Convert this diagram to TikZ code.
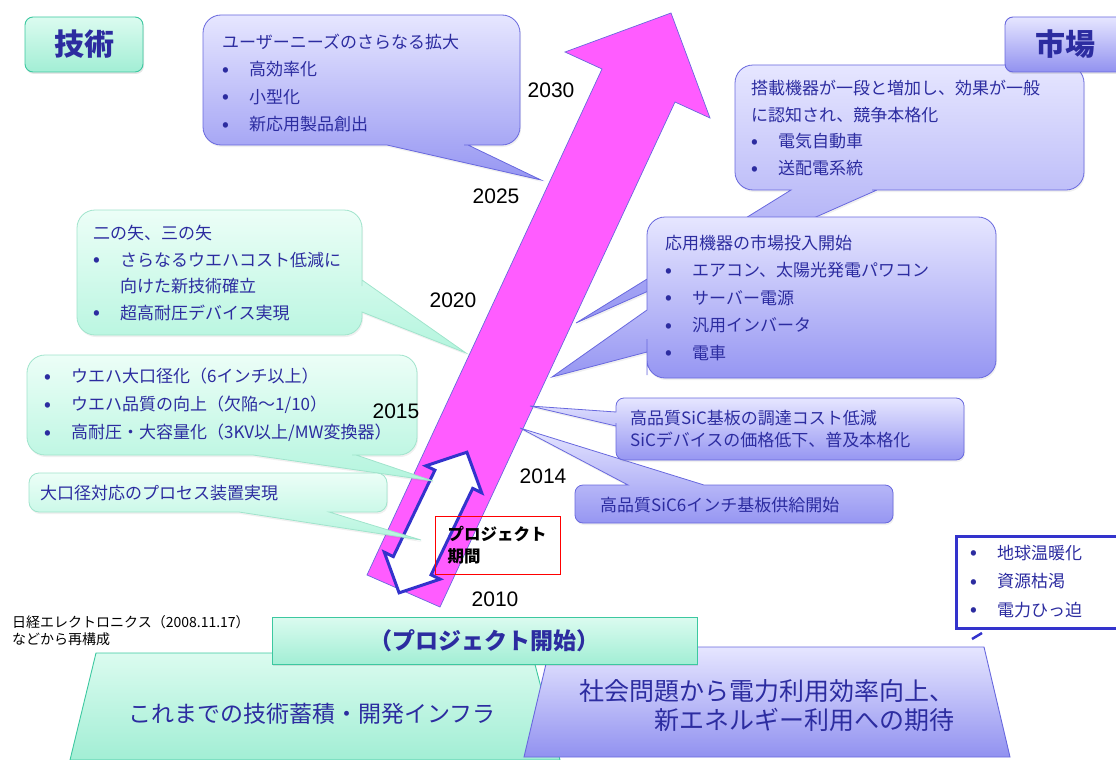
\documentclass[tikz,border=0pt]{standalone}
\usepackage{fontspec}
\usepackage{xcolor}
\setmainfont{Noto Sans CJK JP}
\newfontfamily\yearfont{Liberation Sans}
\usetikzlibrary{shadows}

\definecolor{inkblue}{RGB}{44,44,160}
\definecolor{mintlight}{RGB}{236,254,247}
\definecolor{mintdark}{RGB}{180,245,222}
\definecolor{mintline}{RGB}{160,228,204}
\definecolor{mintedge}{RGB}{60,200,160}
\definecolor{lilaclight}{RGB}{230,230,255}
\definecolor{lilacdark}{RGB}{150,150,242}
\definecolor{lilacline}{RGB}{104,104,222}
\definecolor{arrowpink}{RGB}{255,92,255}
\definecolor{frameblue}{RGB}{51,51,204}

\newcommand{\bul}{\makebox[27pt][l]{\raisebox{0.5pt}{\fontsize{17}{17}\selectfont\bfseries •}}}

\tikzset{
  techcall/.style={draw=mintline, line width=0.8pt, top color=mintlight, bottom color=mintdark,
    drop shadow={opacity=0.12, shadow xshift=1pt, shadow yshift=-2pt}},
  marketcall/.style={draw=lilacline, line width=0.8pt, top color=lilaclight, bottom color=lilacdark,
    drop shadow={opacity=0.12, shadow xshift=1pt, shadow yshift=-2pt}},
  techblock/.style={draw=mintedge, line width=0.9pt, top color=mintlight!70!mintdark, bottom color=mintdark!85!mintedge},
  marketblock/.style={draw=lilacline, line width=0.9pt, top color=lilaclight, bottom color=lilacdark!90!lilacline},
  note/.style={inner sep=0pt, text=inkblue, align=left, font=\fontsize{17}{27.5}\selectfont},
  yearlabel/.style={inner sep=0pt, font=\yearfont\fontsize{21}{21}\selectfont},
  headline/.style={rounded corners=8pt, text=inkblue, font=\fontsize{30}{30}\selectfont\bfseries,
    drop shadow={opacity=0.2, shadow xshift=1pt, shadow yshift=-2pt}},
}

\begin{document}
\begin{tikzpicture}[x=1pt, y=-1pt]
\useasboundingbox (0,0) rectangle (1116,760);

% roadmap arrow
\path[draw=lilacline, line width=0.7pt, fill=arrowpink]
  (367,575) -- (602,69) -- (565,52) -- (671,13) -- (710,118) -- (675,102) -- (440,607) -- cycle;

% project period
\path[draw=frameblue, line width=3pt, fill=white]
  (466.9,452.2) -- (481.7,492.8) -- (472.7,488.4) -- (431.1,574.8) -- (440.1,579.2)
  -- (399.1,592.8) -- (384.3,552.2) -- (393.3,556.6) -- (434.9,470.2) -- (425.9,465.8) -- cycle;

% market callouts
\path[marketcall] (575,505) [rounded corners=8pt] -- (575,485) -- (618,485) [sharp corners] -- (628,485)
  -- (520,428) -- (704,485) -- (714,485) [rounded corners=8pt] -- (893,485) -- (893,523) -- (575,523) -- cycle;
\path[marketcall] (800,398) [rounded corners=8pt] -- (964,398) -- (964,460) -- (616,460) -- (616,431)
  [sharp corners] -- (616,426) -- (530,406) -- (616,412) -- (616,408) [rounded corners=8pt] -- (616,398) -- cycle;
\path[marketcall] (900,65) [rounded corners=18pt] -- (1084,65) -- (1084,190) -- (890,190) [sharp corners]
  -- (877,190) -- (576,323) -- (791,190) -- (778,190) [rounded corners=18pt] -- (735,190) -- (735,65) -- cycle;
\path[marketcall] (800,217) [rounded corners=18pt] -- (996,217) -- (996,378) -- (647,378) -- (647,357)
  [sharp corners] -- (647,352) -- (552,377) -- (647,310) -- (647,300) [rounded corners=18pt] -- (647,217) -- cycle;
\path[marketcall] (360,15) [rounded corners=18pt] -- (520,15) -- (520,145) -- (482,145) [sharp corners]
  -- (468,145) -- (541,180) -- (387,145) -- (373,145) [rounded corners=18pt] -- (203,145) -- (203,15) -- cycle;

% technology callouts
\path[techcall] (220,210) [rounded corners=18pt] -- (362,210) -- (362,268) [sharp corners] -- (362,280)
  -- (466,353) -- (362,312) -- (362,315) [rounded corners=18pt] -- (362,335) -- (77,335) -- (77,210) -- cycle;
\path[techcall] (200,355) [rounded corners=18pt] -- (417,355) -- (417,455) -- (370,455) [sharp corners]
  -- (356,455) -- (433,481) -- (253,455) -- (240,455) [rounded corners=18pt] -- (27,455) -- (27,355) -- cycle;
\path[techcall] (200,473) [rounded corners=10pt] -- (387,473) -- (387,512) -- (342,512) [sharp corners]
  -- (329,512) -- (421,540) -- (239,512) -- (226,512) [rounded corners=10pt] -- (29,512) -- (29,473) -- cycle;

\node[draw=red, line width=0.8pt, minimum width=125pt, minimum height=58pt, text width=101pt,
  inner xsep=12pt, inner ysep=0pt, align=left, font=\fontsize{16.5}{22}\selectfont\bfseries] (period)
  at (498,545.5) {プロジェクト\\期間};

% callout texts
\node[note, anchor=west] (needs) at (222,83)
  {ユーザーニーズのさらなる拡大\\\bul 高効率化\\\bul 小型化\\\bul 新応用製品創出};
\node[note, anchor=west, font=\fontsize{17}{26.5}\selectfont] (nextstep) at (93,273)
  {二の矢、三の矢\\\bul さらなるウエハコスト低減に\\\hspace*{27pt}向けた新技術確立\\\bul 超高耐圧デバイス実現};
\node[note, anchor=west, font=\fontsize{17}{28}\selectfont] (wafer) at (44,405)
  {\bul ウエハ大口径化（6インチ以上）\\\bul ウエハ品質の向上（欠陥～1/10）\\\bul 高耐圧・大容量化（3KV以上/MW変換器）};
\node[note, anchor=west] (process) at (40,493) {大口径対応のプロセス装置実現};
\node[note, anchor=west, font=\fontsize{17}{26.7}\selectfont] (spread) at (751,128)
  {搭載機器が一段と増加し、効果が一般\\に認知され、競争本格化\\\bul 電気自動車\\\bul 送配電系統};
\node[note, anchor=west] (launch) at (665,298)
  {応用機器の市場投入開始\\\bul エアコン、太陽光発電パワコン\\\bul サーバー電源\\\bul 汎用インバータ\\\bul 電車};
\node[note, anchor=west, font=\fontsize{17}{22}\selectfont] (cost) at (630,429)
  {高品質SiC基板の調達コスト低減\\SiCデバイスの価格低下、普及本格化};
\node[note, anchor=west] (supply) at (600,505) {高品質SiC6インチ基板供給開始};

% years
\node[yearlabel] (y2030) at (551,90) {2030};
\node[yearlabel] (y2025) at (496,196) {2025};
\node[yearlabel] (y2020) at (453,300) {2020};
\node[yearlabel] (y2015) at (396,411) {2015};
\node[yearlabel] (y2014) at (543,476) {2014};
\node[yearlabel] (y2010) at (495,599) {2010};

% headings
\node[headline, techblock, minimum width=118pt, minimum height=55pt] (tech) at (84,44.5) {技術};
\node[headline, marketblock, minimum width=120pt, minimum height=55pt] (market) at (1065,44.5) {市場};

% social issues
\path[draw=frameblue, line width=3pt, fill=white] (956,536) rectangle (1130,628);
\node[note, anchor=west, font=\fontsize{17}{28.5}\selectfont] (issues) at (970,581.5)
  {\bul 地球温暖化\\\bul 資源枯渇\\\bul 電力ひっ迫};
\draw[frameblue, line width=2.5pt] (972,639) -- (982,633);

% foundations
\path[techblock] (96,653) -- (532,653) -- (560,760) -- (70,760) -- cycle;
\path[marketblock] (550,647) -- (984,647) -- (1010,757) -- (524,757) -- cycle;
\node[techblock, minimum width=425pt, minimum height=47pt, text=inkblue,
  font=\fontsize{23}{23}\selectfont\bfseries, drop shadow={opacity=0.2, shadow xshift=1pt, shadow yshift=-2pt}]
  (kickoff) at (484.5,640.5) {（プロジェクト開始）};
\node[inner sep=0pt, text=inkblue, font=\fontsize{23}{23}\selectfont] (legacy) at (312,714)
  {これまでの技術蓄積・開発インフラ};
\node[inner sep=0pt, text=inkblue, align=right, anchor=east, font=\fontsize{25}{29}\selectfont] (social)
  at (955,705.5) {社会問題から電力利用効率向上、\\新エネルギー利用への期待};

\node[inner sep=0pt, align=left, anchor=west, font=\fontsize{14}{17}\selectfont] (source) at (12,631)
  {日経エレクトロニクス（2008.11.17）\\などから再構成};
\end{tikzpicture}
\end{document}
